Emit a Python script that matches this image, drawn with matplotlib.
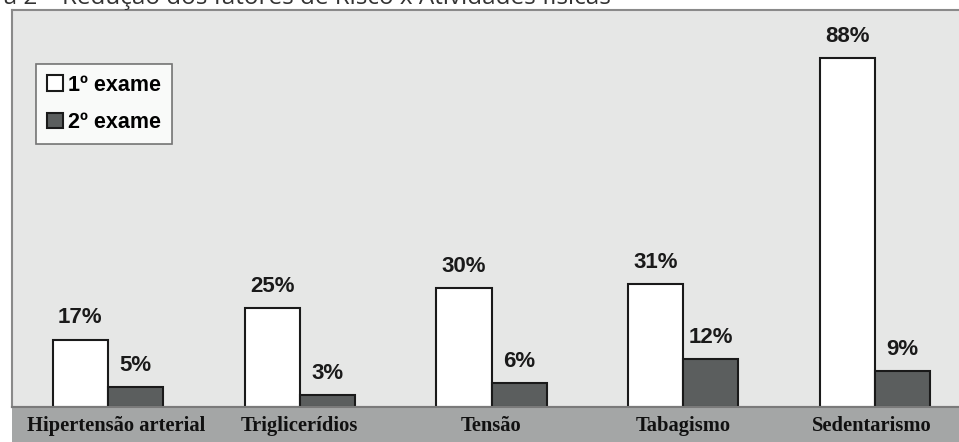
import matplotlib
matplotlib.use("Agg")
import matplotlib.pyplot as plt
from matplotlib.patches import Rectangle
import numpy as np

categories = ["Hipertensão arterial", "Triglicerídios", "Tensão", "Tabagismo", "Sedentarismo"]
exame1 = [17, 25, 30, 31, 88]
exame2 = [5, 3, 6, 12, 9]
series_names = ["1º exame", "2º exame"]
title_text = "Figura 2 – Redução dos fatores de Risco x Atividades físicas"

W, H = 959, 442
fig = plt.figure(figsize=(W / 100, H / 100), dpi=100)
fig.patch.set_facecolor("white")

ax_left, ax_right, ax_top, ax_bottom = 12, 971, 10, 407
ax = fig.add_axes([ax_left / W, (H - ax_bottom) / H, (ax_right - ax_left) / W, (ax_bottom - ax_top) / H])
ax.set_facecolor("#E6E7E6")

x = np.arange(len(categories))
w = 0.287
b1 = ax.bar(x - w / 2, exame1, w, color="white", edgecolor="#1a1a1a", linewidth=1.5, label=series_names[0], zorder=3)
b2 = ax.bar(x + w / 2, exame2, w, color="#5B5E5E", edgecolor="#1a1a1a", linewidth=1.5, label=series_names[1], zorder=3)

for xs, vals in ((x - w / 2, exame1), (x + w / 2, exame2)):
    for xi, v in zip(xs, vals):
        ax.annotate(f"{v}%", (xi, v), xytext=(0, 8), textcoords="offset points", ha="center", va="bottom",
                    fontsize=16, fontweight="bold", family="Liberation Sans", color="#1a1a1a")

ax.set_xlim(-0.5, 4.5)
ax.set_ylim(0, 100)
ax.set_xticks([])
ax.set_yticks([])
for s in ax.spines.values():
    s.set_color("#8a8a8a")
    s.set_linewidth(1.5)

leg = ax.legend(loc="upper left", bbox_to_anchor=(24 / (ax_right - ax_left), 1 - 54 / (ax_bottom - ax_top)),
                frameon=True, fancybox=False, edgecolor="#555555", facecolor="white",
                prop={"family": "Liberation Sans", "weight": "bold", "size": 15.5},
                handlelength=0.75, handleheight=0.75, handletextpad=0.25, labelspacing=0.75,
                borderpad=0.5, borderaxespad=0)
leg.get_frame().set_linewidth(1.2)

# bottom gray strip with category labels
strip = Rectangle((ax_left / W, 0), 1 - ax_left / W, (H - ax_bottom) / H, transform=fig.transFigure,
                  facecolor="#A4A6A6", edgecolor="none", zorder=0)
fig.patches.append(strip)
fig.add_artist(plt.Line2D([ax_left / W, 1], [(H - ax_bottom) / H] * 2, color="#7a7a7a", linewidth=1.5))
label_shift = [8, 0, 0, 0, -3]
for xi, c, dx in zip(x, categories, label_shift):
    disp = ax.transData.transform((xi, 0))
    fx = fig.transFigure.inverted().transform(disp)[0] + dx / W
    fig.text(fx, (H - 426) / H, c, ha="center", va="center", fontsize=14.8, fontweight="bold",
             family="Liberation Serif", color="#111111")

fig.text(-53 / W, 1.0 + 2 / H, title_text, ha="left", va="center", fontsize=17.5, family="Open Sans", color="#333333")

fig.savefig("out.png", dpi=100)
